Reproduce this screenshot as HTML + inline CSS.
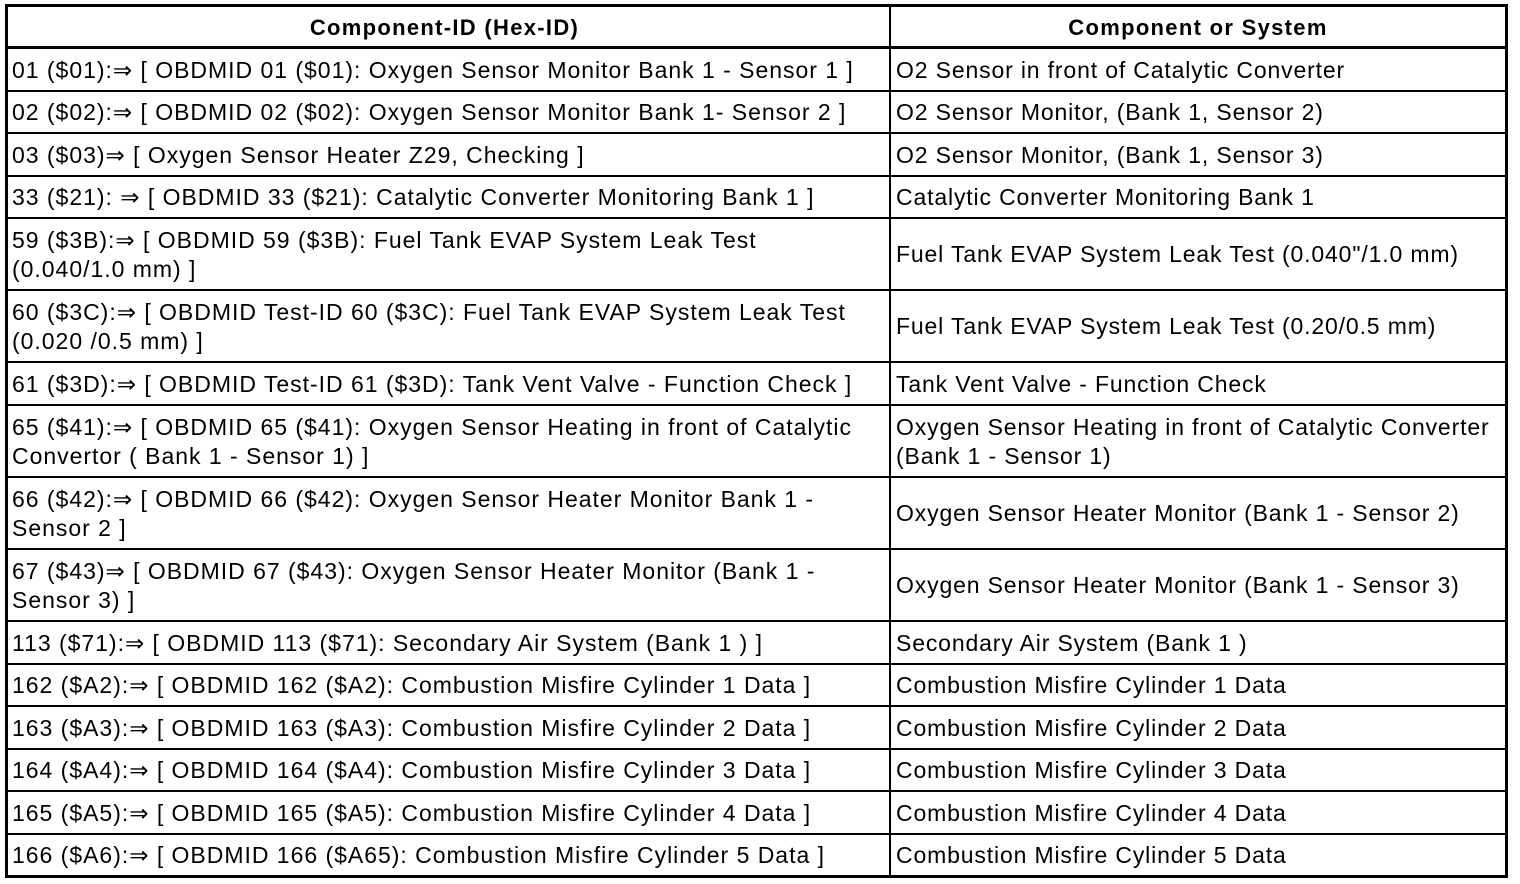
<!DOCTYPE html><html><head><style>
body{margin:0;width:1520px;height:884px;background:#fff;position:relative;overflow:hidden;font-family:"Liberation Sans",Arial,sans-serif;color:#000}
.h{position:absolute;left:6px;width:1501px;height:2px;background:#000}
.c{position:absolute;display:flex;align-items:center;font-size:23px;letter-spacing:0.8px;line-height:29px;white-space:nowrap}
.l{left:12px;width:875px;letter-spacing:0.98px}.r{left:896px;width:612px;letter-spacing:0.85px}
.hd{font-weight:bold;font-size:22px;letter-spacing:1.3px;justify-content:center}
</style></head><body>
<div style="position:absolute;left:5px;top:4px;width:1497px;height:868px;border:3px solid #000"></div>
<div style="position:absolute;left:889px;top:5px;width:2px;height:872px;background:#000"></div>
<div class="h" style="top:46px;height:3px"></div>
<div class="h" style="top:90px"></div><div class="h" style="top:132px"></div><div class="h" style="top:175px"></div><div class="h" style="top:217px"></div><div class="h" style="top:289px"></div><div class="h" style="top:361px"></div><div class="h" style="top:404px"></div><div class="h" style="top:476px"></div><div class="h" style="top:548px"></div><div class="h" style="top:620px"></div><div class="h" style="top:663px"></div><div class="h" style="top:705px"></div><div class="h" style="top:748px"></div><div class="h" style="top:790px"></div><div class="h" style="top:833px"></div>
<div class="c hd" style="left:4px;width:881px;top:7px;height:40px">Component-ID (Hex-ID)</div>
<div class="c hd" style="left:891px;width:614px;top:7px;height:40px">Component or System</div>
<div class="c l" style="top:49px;height:42px">01 ($01):⇒ [ OBDMID 01 ($01): Oxygen Sensor Monitor Bank 1 - Sensor 1 ]</div><div class="c r" style="top:49px;height:42px">O2 Sensor in front of Catalytic Converter</div>
<div class="c l" style="top:92px;height:41px">02 ($02):⇒ [ OBDMID 02 ($02): Oxygen Sensor Monitor Bank 1- Sensor 2 ]</div><div class="c r" style="top:92px;height:41px">O2 Sensor Monitor, (Bank 1, Sensor 2)</div>
<div class="c l" style="top:134px;height:42px">03 ($03)⇒ [ Oxygen Sensor Heater Z29, Checking ]</div><div class="c r" style="top:134px;height:42px">O2 Sensor Monitor, (Bank 1, Sensor 3)</div>
<div class="c l" style="top:177px;height:41px">33 ($21): ⇒ [ OBDMID 33 ($21): Catalytic Converter Monitoring Bank 1 ]</div><div class="c r" style="top:177px;height:41px">Catalytic Converter Monitoring Bank 1</div>
<div class="c l" style="top:219px;height:71px">59 ($3B):⇒ [ OBDMID 59 ($3B): Fuel Tank EVAP System Leak Test<br>(0.040/1.0 mm) ]</div><div class="c r" style="top:219px;height:71px">Fuel Tank EVAP System Leak Test (0.040"/1.0 mm)</div>
<div class="c l" style="top:291px;height:71px">60 ($3C):⇒ [ OBDMID Test-ID 60 ($3C): Fuel Tank EVAP System Leak Test<br>(0.020 /0.5 mm) ]</div><div class="c r" style="top:291px;height:71px">Fuel Tank EVAP System Leak Test (0.20/0.5 mm)</div>
<div class="c l" style="top:363px;height:42px">61 ($3D):⇒ [ OBDMID Test-ID 61 ($3D): Tank Vent Valve - Function Check ]</div><div class="c r" style="top:363px;height:42px">Tank Vent Valve - Function Check</div>
<div class="c l" style="top:406px;height:71px">65 ($41):⇒ [ OBDMID 65 ($41): Oxygen Sensor Heating in front of Catalytic<br>Convertor ( Bank 1 - Sensor 1) ]</div><div class="c r" style="top:406px;height:71px">Oxygen Sensor Heating in front of Catalytic Converter<br>(Bank 1 - Sensor 1)</div>
<div class="c l" style="top:478px;height:71px">66 ($42):⇒ [ OBDMID 66 ($42): Oxygen Sensor Heater Monitor Bank 1 -<br>Sensor 2 ]</div><div class="c r" style="top:478px;height:71px">Oxygen Sensor Heater Monitor (Bank 1 - Sensor 2)</div>
<div class="c l" style="top:550px;height:71px">67 ($43)⇒ [ OBDMID 67 ($43): Oxygen Sensor Heater Monitor (Bank 1 -<br>Sensor 3) ]</div><div class="c r" style="top:550px;height:71px">Oxygen Sensor Heater Monitor (Bank 1 - Sensor 3)</div>
<div class="c l" style="top:622px;height:42px">113 ($71):⇒ [ OBDMID 113 ($71): Secondary Air System (Bank 1 ) ]</div><div class="c r" style="top:622px;height:42px">Secondary Air System (Bank 1 )</div>
<div class="c l" style="top:665px;height:41px">162 ($A2):⇒ [ OBDMID 162 ($A2): Combustion Misfire Cylinder 1 Data ]</div><div class="c r" style="top:665px;height:41px">Combustion Misfire Cylinder 1 Data</div>
<div class="c l" style="top:707px;height:42px">163 ($A3):⇒ [ OBDMID 163 ($A3): Combustion Misfire Cylinder 2 Data ]</div><div class="c r" style="top:707px;height:42px">Combustion Misfire Cylinder 2 Data</div>
<div class="c l" style="top:750px;height:41px">164 ($A4):⇒ [ OBDMID 164 ($A4): Combustion Misfire Cylinder 3 Data ]</div><div class="c r" style="top:750px;height:41px">Combustion Misfire Cylinder 3 Data</div>
<div class="c l" style="top:792px;height:42px">165 ($A5):⇒ [ OBDMID 165 ($A5): Combustion Misfire Cylinder 4 Data ]</div><div class="c r" style="top:792px;height:42px">Combustion Misfire Cylinder 4 Data</div>
<div class="c l" style="top:835px;height:41px">166 ($A6):⇒ [ OBDMID 166 ($A65): Combustion Misfire Cylinder 5 Data ]</div><div class="c r" style="top:835px;height:41px">Combustion Misfire Cylinder 5 Data</div>
</body></html>
